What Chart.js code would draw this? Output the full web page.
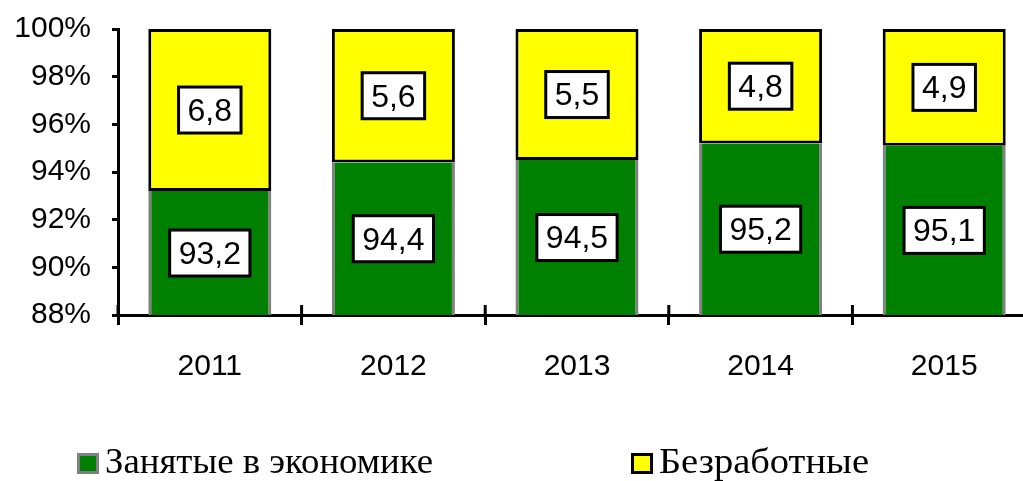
<!DOCTYPE html>
<html>
<head>
<meta charset="utf-8">
<script src="https://cdn.jsdelivr.net/npm/chart.js@4/dist/chart.umd.min.js"></script>
<style>
  html, body { margin: 0; padding: 0; background: #fff; overflow: hidden; }
  #wrap { position: absolute; left: 0; top: 0; width: 1040px; height: 400px; }
  #legend { position: absolute; left: 0; top: 0; width: 1023px; height: 481px; pointer-events: none; }
  .box { position: absolute; top: 453px; width: 16px; height: 15px; border: 3px solid; }
  .txt { position: absolute; top: 443px; line-height: 36px; font-family: "Liberation Serif", "Times New Roman", serif;
         font-size: 36px; color: #000; white-space: nowrap; transform-origin: left center; }
</style>
</head>
<body>
<div id="wrap"><canvas id="chart" width="1040" height="400"></canvas></div>
<div id="legend"></div>
<script>
// Employment structure, % of labour force
const years = ["2011", "2012", "2013", "2014", "2015"];
const employed = [93.2, 94.4, 94.5, 95.2, 95.1];
const unemployed = [6.8, 5.6, 5.5, 4.8, 4.9];
const seriesNames = ["Занятые в экономике", "Безработные"];
const yMin = 88;
const yMax = 100;
const yStep = 2;

const labelFont = "32px Arial, 'Liberation Sans', sans-serif";

function fmt(v) {
  return v.toFixed(1).replace(".", ",");
}

// white boxed value labels in the middle of the visible part of each segment
const boxLabels = {
  id: "boxLabels",
  afterDatasetsDraw(chart) {
    const ctx = chart.ctx;
    const area = chart.chartArea;
    ctx.save();
    ctx.font = labelFont;
    ctx.textAlign = "center";
    ctx.textBaseline = "middle";
    chart.data.datasets.forEach((ds, di) => {
      const meta = chart.getDatasetMeta(di);
      meta.data.forEach((bar, i) => {
        const top = Math.max(bar.y, area.top);
        const bottom = Math.min(bar.base, area.bottom);
        const cy = (top + bottom) / 2;
        const text = fmt(ds.data[i]);
        const w = ctx.measureText(text).width + 18;
        const h = 46;
        ctx.fillStyle = "#fff";
        ctx.fillRect(bar.x - w / 2, cy - h / 2, w, h);
        ctx.lineWidth = 3;
        ctx.strokeStyle = "#000";
        ctx.strokeRect(bar.x - w / 2, cy - h / 2, w, h);
        ctx.fillStyle = "#000";
        ctx.fillText(text, bar.x, cy + 2);
      });
    });
    ctx.restore();
  },
};

// x-axis tick marks crossing the axis line (the inner half)
const crossTicks = {
  id: "crossTicks",
  afterDraw(chart) {
    const x = chart.scales.x;
    const ctx = chart.ctx;
    const n = years.length;
    ctx.save();
    ctx.strokeStyle = "#000";
    ctx.lineWidth = 3;
    for (let i = 0; i <= n; i++) {
      const px = x.left + (i * x.width) / n;
      ctx.beginPath();
      ctx.moveTo(px, x.top);
      ctx.lineTo(px, x.top - 10);
      ctx.stroke();
    }
    ctx.restore();
  },
};

const chart = new Chart(document.getElementById("chart"), {
  type: "bar",
  data: {
    labels: years,
    datasets: [
      {
        label: seriesNames[0],
        data: employed,
        backgroundColor: "#008000",
        borderColor: "#808080",
        borderWidth: { left: 3, right: 3, top: 0, bottom: 0 },
        borderSkipped: false,
        categoryPercentage: 1,
        barPercentage: 0.67,
      },
      {
        label: seriesNames[1],
        data: unemployed,
        backgroundColor: "#ffff00",
        borderColor: "#000",
        borderWidth: 3,
        borderSkipped: false,
        categoryPercentage: 1,
        barPercentage: 0.67,
      },
    ],
  },
  options: {
    responsive: false,
    animation: false,
    layout: { padding: { top: 29, right: 4, left: 0, bottom: 0 } },
    plugins: {
      legend: { display: false },
      tooltip: { enabled: false },
    },
    scales: {
      x: {
        stacked: true,
        offset: true,
        grid: {
          offset: true,
          drawOnChartArea: false,
          tickLength: 10,
          tickWidth: 3,
          tickColor: "#000",
        },
        border: { color: "#000", width: 3 },
        ticks: { color: "#000", font: { family: "Arial, 'Liberation Sans'", size: 30 }, padding: 24 },
        afterFit(scale) {
          scale.height = 85;
          scale.paddingLeft = 0;
          scale.paddingRight = 0;
        },
      },
      y: {
        stacked: true,
        min: yMin,
        max: yMax,
        grid: {
          drawOnChartArea: false,
          tickLength: 6,
          tickWidth: 3,
          tickColor: "#000",
        },
        border: { color: "#000", width: 3 },
        ticks: {
          stepSize: yStep,
          color: "#000",
          font: { family: "Arial, 'Liberation Sans'", size: 30 },
          padding: 21,
          callback: (v) => v + "%",
        },
        afterFit(scale) {
          scale.width = 118;
          scale.paddingTop = 0;
          scale.paddingBottom = 0;
        },
      },
    },
  },
  plugins: [boxLabels, crossTicks],
});

// legend under the chart, built from the datasets
const legendEl = document.getElementById("legend");
const legendBoxX = [77, 631];
const legendTextW = [328, 210];
chart.data.datasets.forEach((ds, i) => {
  const box = document.createElement("div");
  box.className = "box";
  box.style.left = legendBoxX[i] + "px";
  box.style.background = ds.backgroundColor;
  box.style.borderColor = ds.borderColor;
  const txt = document.createElement("div");
  txt.className = "txt";
  txt.style.left = legendBoxX[i] + 28 + "px";
  txt.textContent = ds.label;
  legendEl.appendChild(box);
  legendEl.appendChild(txt);
  // condense the text to the width seen in the picture
  const w = txt.getBoundingClientRect().width;
  txt.style.transform = "scaleX(" + (legendTextW[i] / w) + ")";
});
</script>
</body>
</html>
